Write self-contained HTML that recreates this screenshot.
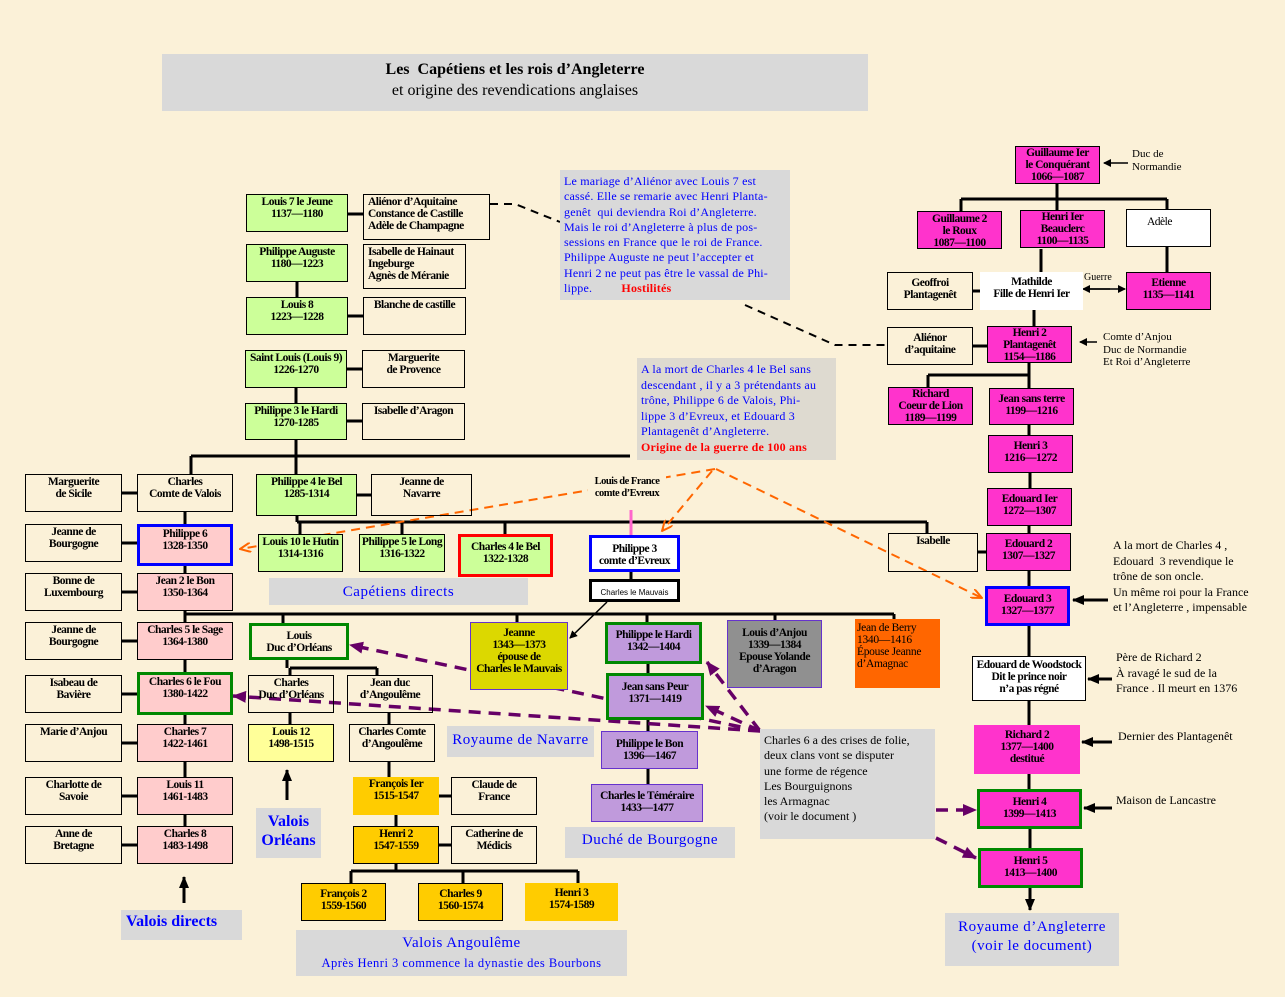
<!DOCTYPE html>
<html><head><meta charset="utf-8">
<style>
body{margin:0;width:1285px;height:997px;background:#fbf1d8;position:relative;overflow:hidden;font-family:"Liberation Serif",serif;}
.b{position:absolute;box-sizing:border-box;border:1px solid #000;text-align:center;font-weight:bold;font-size:11.5px;line-height:12px;padding-top:1px;letter-spacing:-0.5px;color:#000;background:transparent;white-space:nowrap;}
.g{background:#ccff99}.p{background:#ffcccc}.m{background:#ff33cc}.w{background:#fff}.y{background:#ffcc00;border:1px solid #000}.pu{background:#c09adc;border-color:#6633cc}
.lab{position:absolute;background:#d9d9d9;color:#0000ff;text-align:center;font-size:15px;letter-spacing:0.5px}
.t{position:absolute;font-size:11px;line-height:12.5px;color:#000;white-space:nowrap}
svg{position:absolute;left:0;top:0}
</style></head><body>
<svg width="1285" height="997">
<defs>
<marker id="ab" markerWidth="8" markerHeight="8" refX="7" refY="4" orient="auto" markerUnits="userSpaceOnUse"><path d="M0,0 L8,4 L0,8 z" fill="#000"/></marker>
<marker id="ab2" markerWidth="12" markerHeight="10" refX="11" refY="5" orient="auto" markerUnits="userSpaceOnUse"><path d="M0,0 L12,5 L0,10 z" fill="#000"/></marker>
<marker id="ao" markerWidth="12" markerHeight="10" refX="11" refY="5" orient="auto" markerUnits="userSpaceOnUse"><path d="M0,0 L11,5 L0,10" fill="none" stroke="#ff6600" stroke-width="2"/></marker>
<marker id="ap" markerWidth="14" markerHeight="12" refX="13" refY="6" orient="auto" markerUnits="userSpaceOnUse"><path d="M0,0 L14,6 L0,12 z" fill="#660066"/></marker>
</defs>
<g stroke="#000" stroke-width="3" fill="none">
<path d="M348,214 H363 M297,282 V297 M348,316 H363 M296,388 V403 M347,369 H362 M347,421 H362 M296,440 V456 M191,456 H630 M191,456 V474 M296,456 V474"/>
<path d="M122,493 H137 M357,495 H371 M297,516 V522 M297,522 H927 M300,522 V534 M402,522 V534 M505,522 V534 M927,522 V534 M978,552 H986"/>
<path d="M185,512 V826 M122,543 H137 M122,592 H137 M122,641 H137 M122,694 H137 M122,743 H137 M122,796 H137 M122,845 H137"/>
<path d="M185,614 H894 M283,614 V623 M517,614 V622 M647,614 V622 M775,614 V620 M894,614 V619"/>
<path d="M287,659 V668 M290,668 H377 M290,668 V675 M377,668 V675 M290,713 V724 M389,713 V724 M389,762 V777 M396,815 V826 M439,796 H451 M439,845 H451 M396,864 V871 M351,871 H578 M351,871 V883 M463,871 V883 M578,871 V883"/>
<path d="M648,662 V784 M631,572 V579"/>
<path d="M1057,184 V199 M961,199 H1167 M961,199 V211 M1057,199 V210 M1167,199 V209 M1041,249 V272 M1167,247 V272 M973,291 H980 M1034,310 V326 M973,346 H987 M1029,363 V375 M928,375 H1029 M928,375 V387 M1029,375 V388 M1029,425 V435 M1030,473 V488 M1029,526 V533 M1029,571 V587 M1029,625 V656 M1029,701 V725 M1029,774 V789 M1030,829 V848"/>
</g>
<path d="M631,510 V535" stroke="#ff66cc" stroke-width="3"/>
<g stroke="#000" stroke-width="3" fill="none">
<path d="M1030,887 V910" marker-end="url(#ab2)"/>
<path d="M184,903 V877" marker-end="url(#ab2)"/>
<path d="M287,800 V770" marker-end="url(#ab2)"/>
<path d="M1108,600 H1073" marker-end="url(#ab2)"/>
<path d="M1112,679 H1088" marker-end="url(#ab2)"/>
<path d="M1112,742 H1082" marker-end="url(#ab2)"/>
<path d="M1112,808 H1084" marker-end="url(#ab2)"/>
</g>
<g stroke="#000" stroke-width="1.5" fill="none">
<path d="M1128,163 H1104" marker-end="url(#ab)"/>
<path d="M1097,342 H1080" marker-end="url(#ab)"/>
<path d="M1090,289 H1125" marker-end="url(#ab)"/>
<path d="M1110,289 H1083" marker-end="url(#ab)"/>
<path d="M607,602 L570,638" marker-end="url(#ab)"/>
</g>
<path d="M490,204 H515 L560,222 M745,305 L835,345 H887" stroke="#000" stroke-width="2" stroke-dasharray="8,6" fill="none"/>
<g stroke="#ff6600" stroke-width="2" stroke-dasharray="9,6" fill="none">
<path d="M715,469 L240,549" marker-end="url(#ao)"/>
<path d="M712,471 L662,531" marker-end="url(#ao)"/>
<path d="M716,469 L982,598" marker-end="url(#ao)"/>
</g>
<g stroke="#660066" stroke-width="3.5" stroke-dasharray="12,8" fill="none">
<path d="M760,731 L350,645" marker-end="url(#ap)"/>
<path d="M760,731 L233,696" marker-end="url(#ap)"/>
<path d="M760,731 L706,706" marker-end="url(#ap)"/>
<path d="M760,731 L707,662" marker-end="url(#ap)"/>
<path d="M936,810 L976,810" marker-end="url(#ap)"/>
<path d="M936,838 L976,858" marker-end="url(#ap)"/>
</g>
</svg>

<div class="lab" style="left:162px;top:54px;width:706px;height:57px;color:#000;font-size:16px;line-height:21px;padding-top:5px;box-sizing:border-box;letter-spacing:0"><b>Les&nbsp; Capétiens et les rois d’Angleterre</b><br>et origine des revendications anglaises</div>

<div class="b g" style="left:246px;top:194px;width:102px;height:38px">Louis 7 le Jeune<br>1137—1180</div>
<div class="b" style="left:363px;top:194px;width:127px;height:46px;text-align:left;padding-left:4px">Aliénor d’Aquitaine<br>Constance de Castille<br>Adèle de Champagne</div>
<div class="b g" style="left:246px;top:244px;width:102px;height:38px">Philippe Auguste<br>1180—1223</div>
<div class="b" style="left:363px;top:244px;width:103px;height:45px;text-align:left;padding-left:4px">Isabelle de Hainaut<br>Ingeburge<br>Agnès de Méranie</div>
<div class="b g" style="left:246px;top:297px;width:102px;height:38px">Louis 8<br>1223—1228</div>
<div class="b" style="left:363px;top:297px;width:103px;height:38px">Blanche de castille</div>
<div class="b g" style="left:245px;top:350px;width:102px;height:38px">Saint Louis (Louis 9)<br>1226-1270</div>
<div class="b" style="left:362px;top:350px;width:103px;height:38px">Marguerite<br>de Provence</div>
<div class="b g" style="left:245px;top:403px;width:102px;height:37px">Philippe 3 le Hardi<br>1270-1285</div>
<div class="b" style="left:362px;top:403px;width:103px;height:37px">Isabelle d’Aragon</div>

<div class="b" style="left:25px;top:474px;width:97px;height:38px">Marguerite<br>de Sicile</div>
<div class="b" style="left:137px;top:474px;width:96px;height:38px">Charles<br>Comte de Valois</div>
<div class="b g" style="left:256px;top:474px;width:101px;height:42px">Philippe 4 le Bel<br>1285-1314</div>
<div class="b" style="left:371px;top:474px;width:101px;height:42px">Jeanne de<br>Navarre</div>
<div class="t" style="left:588px;top:476px;width:78px;font-weight:bold;text-align:center;font-size:10.5px;line-height:12px;letter-spacing:-0.5px;background:#fbf1d8">Louis de France<br>comte d’Evreux</div>

<div class="b" style="left:25px;top:524px;width:97px;height:38px">Jeanne de<br>Bourgogne</div>
<div class="b p" style="left:137px;top:524px;width:96px;height:42px;border:3px solid #0000ff">Philippe 6<br>1328-1350</div>
<div class="b g" style="left:258px;top:534px;width:85px;height:38px">Louis 10 le Hutin<br>1314-1316</div>
<div class="b g" style="left:359px;top:534px;width:86px;height:38px">Philippe 5 le Long<br>1316-1322</div>
<div class="b g" style="left:458px;top:534px;width:95px;height:43px;border:3px solid #ff0000;padding-top:4px">Charles 4 le Bel<br>1322-1328</div>
<div class="b w" style="left:589px;top:535px;width:91px;height:37px;border:3px solid #0000ff;padding-top:5px">Philippe 3<br>comte d’Evreux</div>
<div class="b w" style="left:589px;top:579px;width:91px;height:23px;border:3px solid #000;font-family:'Liberation Sans',sans-serif;font-weight:normal;font-size:8px;padding-top:5px;letter-spacing:0">Charles le Mauvais</div>
<div class="b" style="left:888px;top:533px;width:90px;height:39px">Isabelle</div>
<div class="lab" style="left:269px;top:578px;width:259px;height:27px;line-height:29px">Capétiens directs</div>

<div class="b" style="left:25px;top:573px;width:97px;height:38px">Bonne de<br>Luxembourg</div>
<div class="b p" style="left:137px;top:573px;width:96px;height:38px">Jean 2 le Bon<br>1350-1364</div>
<div class="b" style="left:25px;top:622px;width:97px;height:38px">Jeanne de<br>Bourgogne</div>
<div class="b p" style="left:137px;top:622px;width:96px;height:38px">Charles 5 le Sage<br>1364-1380</div>
<div class="b" style="left:249px;top:623px;width:100px;height:37px;border:3px solid #008800;padding-top:4px">Louis<br>Duc d’Orléans</div>
<div class="b" style="left:470px;top:622px;width:98px;height:68px;background:#dcd800;border-color:#6633cc;padding-top:4px">Jeanne<br>1343—1373<br>épouse de<br>Charles le Mauvais</div>
<div class="b pu" style="left:605px;top:622px;width:97px;height:42px;border:3px solid #008800;padding-top:4px">Philippe le Hardi<br>1342—1404</div>
<div class="b" style="left:727px;top:620px;width:95px;height:68px;background:#909090;border-color:#6633cc;padding-top:6px">Louis d’Anjou<br>1339—1384<br>Epouse Yolande<br>d’Aragon</div>
<div class="b" style="left:855px;top:619px;width:85px;height:69px;background:#ff6600;border:none;text-align:left;font-weight:normal;padding:3px 2px;font-size:11.5px;letter-spacing:-0.3px">Jean de Berry<br>1340—1416<br>Épouse Jeanne<br>d’Amagnac</div>

<div class="b" style="left:25px;top:675px;width:97px;height:38px">Isabeau de<br>Bavière</div>
<div class="b p" style="left:137px;top:672px;width:96px;height:43px;border:3px solid #008800">Charles 6 le Fou<br>1380-1422</div>
<div class="b" style="left:248px;top:675px;width:86px;height:38px">Charles<br>Duc d’Orléans</div>
<div class="b" style="left:347px;top:675px;width:86px;height:38px">Jean duc<br>d’Angoulême</div>
<div class="b pu" style="left:606px;top:673px;width:98px;height:47px;border:3px solid #008800;padding-top:5px">Jean sans Peur<br>1371—1419</div>

<div class="b" style="left:25px;top:724px;width:97px;height:38px">Marie d’Anjou</div>
<div class="b p" style="left:137px;top:724px;width:96px;height:38px">Charles 7<br>1422-1461</div>
<div class="b" style="left:248px;top:724px;width:86px;height:38px;background:#ffff99">Louis 12<br>1498-1515</div>
<div class="b" style="left:349px;top:724px;width:86px;height:38px">Charles Comte<br>d’Angoulême</div>
<div class="lab" style="left:447px;top:726px;width:147px;height:31px;line-height:28px">Royaume de Navarre</div>
<div class="b pu" style="left:601px;top:731px;width:97px;height:38px;padding-top:6px">Philippe le Bon<br>1396—1467</div>
<div class="t" style="left:760px;top:729px;width:175px;height:110px;background:#d9d9d9;padding:4px;box-sizing:border-box;font-size:12px;line-height:15.3px">Charles 6 a des crises de folie,<br>deux clans vont se disputer<br>une forme de régence<br>Les Bourguignons<br>les Armagnac<br>(voir le document )</div>

<div class="b" style="left:25px;top:777px;width:97px;height:38px">Charlotte de<br>Savoie</div>
<div class="b p" style="left:137px;top:777px;width:96px;height:38px">Louis 11<br>1461-1483</div>
<div class="b y" style="left:353px;top:777px;width:86px;height:38px;border:none">François Ier<br>1515-1547</div>
<div class="b" style="left:451px;top:777px;width:86px;height:38px">Claude de<br>France</div>
<div class="b pu" style="left:591px;top:784px;width:112px;height:38px;padding-top:5px">Charles le Téméraire<br>1433—1477</div>
<div class="lab" style="left:256px;top:808px;width:65px;height:50px;font-size:16px;line-height:19px;padding-top:4px;box-sizing:border-box;font-weight:bold;letter-spacing:0">Valois<br>Orléans</div>

<div class="b" style="left:25px;top:826px;width:97px;height:38px">Anne de<br>Bretagne</div>
<div class="b p" style="left:137px;top:826px;width:96px;height:38px">Charles 8<br>1483-1498</div>
<div class="b y" style="left:353px;top:826px;width:86px;height:38px">Henri 2<br>1547-1559</div>
<div class="b" style="left:451px;top:826px;width:86px;height:38px">Catherine de<br>Médicis</div>
<div class="lab" style="left:565px;top:827px;width:170px;height:31px;line-height:26px">Duché de Bourgogne</div>

<div class="b y" style="left:301px;top:883px;width:85px;height:38px;padding-top:4px">François 2<br>1559-1560</div>
<div class="b y" style="left:418px;top:883px;width:85px;height:38px;padding-top:4px">Charles 9<br>1560-1574</div>
<div class="b y" style="left:525px;top:883px;width:93px;height:38px;border:none;padding-top:4px">Henri 3<br>1574-1589</div>
<div class="lab" style="left:121px;top:910px;width:121px;height:30px;font-weight:bold;text-align:left;padding-left:5px;box-sizing:border-box;line-height:24px;font-size:16px;letter-spacing:0">Valois directs</div>
<div class="lab" style="left:296px;top:930px;width:331px;height:46px;line-height:20px;padding-top:3px;box-sizing:border-box">Valois Angoulême<br><span style="font-size:12.5px">Après Henri 3 commence la dynastie des Bourbons</span></div>

<div class="t" style="left:560px;top:170px;width:230px;height:130px;background:#d9d9d9;color:#0000ff;padding:4px 4px;box-sizing:border-box;font-size:12px;line-height:15.3px;letter-spacing:0.2px">Le mariage d’Aliénor avec Louis 7 est<br>cassé. Elle se remarie avec Henri Planta-<br>genêt&nbsp; qui deviendra Roi d’Angleterre.<br>Mais le roi d’Angleterre à plus de pos-<br>sessions en France que le roi de France.<br>Philippe Auguste ne peut l’accepter et<br>Henri 2 ne peut pas être le vassal de Phi-<br>lippe. <b style="color:#ff0000;margin-left:26px">Hostilités</b></div>
<div class="t" style="left:637px;top:358px;width:199px;height:102px;background:#dedad0;color:#0000ff;padding:4px 4px;box-sizing:border-box;font-size:12px;line-height:15.5px;letter-spacing:0.2px">A la mort de Charles 4 le Bel sans<br>descendant , il y a 3 prétendants au<br>trône, Philippe 6 de Valois, Phi-<br>lippe 3 d’Evreux, et Edouard 3<br>Plantagenêt d’Angleterre.<br><b style="color:#ff0000">Origine de la guerre de 100 ans</b></div>

<div class="b m" style="left:1015px;top:146px;width:85px;height:38px;line-height:12px;padding-top:0">Guillaume Ier<br>le Conquérant<br>1066—1087</div>
<div class="t" style="left:1132px;top:148px">Duc de<br>Normandie</div>
<div class="b m" style="left:917px;top:211px;width:85px;height:38px;padding-top:1px">Guillaume 2<br>le Roux<br>1087—1100</div>
<div class="b m" style="left:1020px;top:210px;width:85px;height:38px;padding-top:0">Henri Ier<br>Beauclerc<br>1100—1135</div>
<div class="b w" style="left:1126px;top:209px;width:85px;height:38px;font-weight:normal;text-align:left;padding:6px 0 0 20px">Adèle</div>
<div class="b" style="left:887px;top:272px;width:86px;height:38px;padding-top:4px">Geoffroi<br>Plantagenêt</div>
<div class="b w" style="left:980px;top:272px;width:103px;height:38px;border:none;padding-top:4px">Mathilde<br>Fille de Henri Ier</div>
<div class="t" style="left:1084px;top:272px;font-size:10px">Guerre</div>
<div class="b m" style="left:1126px;top:272px;width:85px;height:38px;padding-top:4px">Etienne<br>1135—1141</div>
<div class="b" style="left:887px;top:327px;width:86px;height:38px;padding-top:4px">Aliénor<br>d’aquitaine</div>
<div class="b m" style="left:987px;top:326px;width:85px;height:37px;padding-top:0">Henri 2<br>Plantagenêt<br>1154—1186</div>
<div class="t" style="left:1103px;top:331px">Comte d’Anjou<br>Duc de Normandie<br>Et Roi d’Angleterre</div>
<div class="b m" style="left:888px;top:387px;width:85px;height:38px;padding-top:0">Richard<br>Coeur de Lion<br>1189—1199</div>
<div class="b m" style="left:989px;top:388px;width:85px;height:37px;padding-top:4px">Jean sans terre<br>1199—1216</div>
<div class="b m" style="left:988px;top:435px;width:85px;height:38px;padding-top:4px">Henri 3<br>1216—1272</div>
<div class="b m" style="left:987px;top:488px;width:85px;height:38px;padding-top:4px">Edouard Ier<br>1272—1307</div>
<div class="b m" style="left:986px;top:533px;width:85px;height:38px;padding-top:4px">Edouard 2<br>1307—1327</div>
<div class="t" style="left:1113px;top:538px;font-size:12px;line-height:15.5px">A la mort de Charles 4 ,<br>Edouard&nbsp; 3 revendique le<br>trône de son oncle.<br>Un même roi pour la France<br>et l’Angleterre , impensable</div>
<div class="b m" style="left:985px;top:586px;width:85px;height:40px;border:3px solid #0000ff;padding-top:4px">Edouard 3<br>1327—1377</div>
<div class="b w" style="left:972px;top:656px;width:114px;height:45px;padding-top:2px">Edouard de Woodstock<br>Dit le prince noir<br>n’a pas régné</div>
<div class="t" style="left:1116px;top:650px;font-size:12px;line-height:15.5px">Père de Richard 2<br>À ravagé le sud de la<br>France . Il meurt en 1376</div>
<div class="b m" style="left:974px;top:725px;width:106px;height:49px;border:none;padding-top:4px">Richard 2<br>1377—1400<br>destitué</div>
<div class="t" style="left:1118px;top:730px;font-size:12px">Dernier des Plantagenêt</div>
<div class="b m" style="left:977px;top:789px;width:105px;height:40px;border:3px solid #008800;padding-top:4px">Henri 4<br>1399—1413</div>
<div class="t" style="left:1116px;top:794px;font-size:12px">Maison de Lancastre</div>
<div class="b m" style="left:978px;top:848px;width:105px;height:40px;border:3px solid #008800;padding-top:4px">Henri 5<br>1413—1400</div>
<div class="lab" style="left:945px;top:913px;width:174px;height:53px;line-height:19px;padding-top:5px;box-sizing:border-box">Royaume d’Angleterre<br>(voir le document)</div>
</body></html>
